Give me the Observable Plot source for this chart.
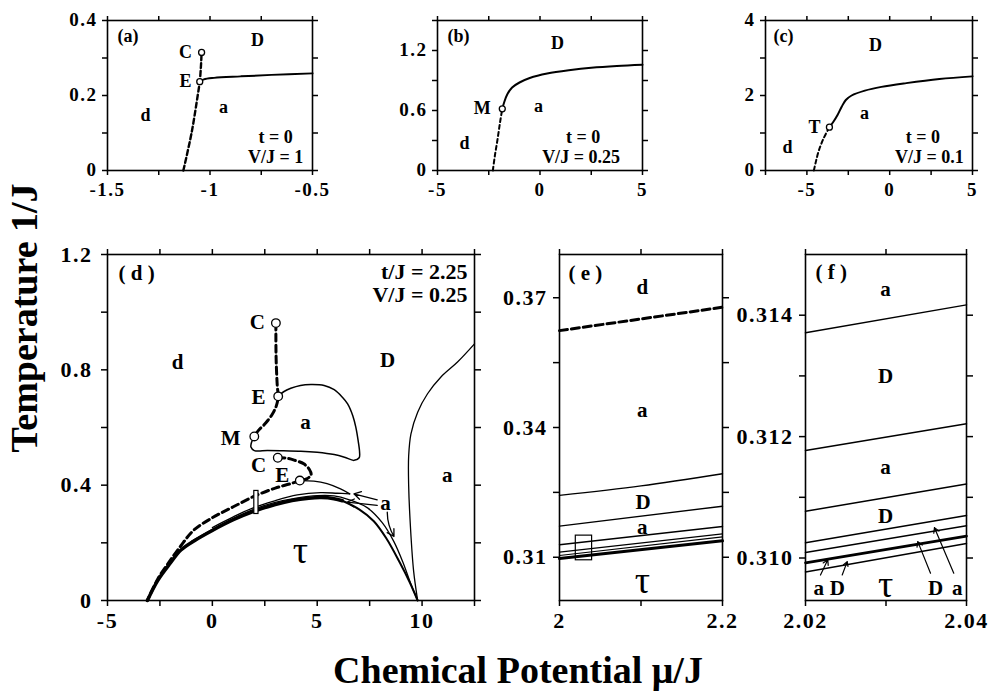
<!DOCTYPE html>
<html>
<head>
<meta charset="utf-8">
<script src="https://cdn.jsdelivr.net/npm/d3@7"></script>
<script src="https://cdn.jsdelivr.net/npm/@observablehq/plot@0.6"></script>
<style>
html, body { margin: 0; padding: 0; background: #fff; }
#chart { position: relative; width: 988px; height: 692px; overflow: hidden; font-family: "Liberation Serif", "Times New Roman", serif; color: #000; }
.panel { position: absolute; }
.title { position: absolute; font-weight: bold; font-size: 38px; line-height: 1; white-space: nowrap; }
</style>
</head>
<body>
<div id="chart"></div>
<script>
// ---------------- data ----------------
// Panel (a): t = 0, V/J = 1
const aXDomain = [-1.5, -0.5], aYDomain = [0, 0.4];
const aXTicks = [-1.5, -1.25, -1, -0.75, -0.5], aXLabels = [-1.5, -1, -0.5];
const aYTicks = [0, 0.1, 0.2, 0.3, 0.4], aYLabels = [0, 0.2, 0.4];
const aDashed = [[-1.13, 0], [-1.09, 0.1], [-1.06, 0.2], [-1.05, 0.237], [-1.044, 0.28], [-1.041, 0.315]];
const aSolid = [[-1.05, 0.237], [-1.03, 0.243], [-0.98, 0.247], [-0.85, 0.251], [-0.7, 0.255], [-0.5, 0.259]];
const aPoints = [[-1.041, 0.315], [-1.05, 0.237]];
const aText = [
  {t: "C", x: -1.12, y: 0.315}, {t: "E", x: -1.12, y: 0.237}, {t: "D", x: -0.768, y: 0.347},
  {t: "d", x: -1.315, y: 0.147}, {t: "a", x: -0.934, y: 0.168},
  {t: "t = 0", x: -0.68, y: 0.088}, {t: "V/J = 1", x: -0.68, y: 0.035}
];

// Panel (b): t = 0, V/J = 0.25
const bXDomain = [-5, 5], bYDomain = [0, 1.5];
const bXTicks = [-5, -2.5, 0, 2.5, 5], bXLabels = [-5, 0, 5];
const bYTicks = [0, 0.3, 0.6, 0.9, 1.2, 1.5], bYLabels = [0, 0.6, 1.2];
const bDashed = [[-2.3, 0], [-2.2, 0.15], [-2.08, 0.3], [-1.95, 0.48], [-1.84, 0.617]];
const bSolid = [[-1.84, 0.617], [-1.75, 0.68], [-1.6, 0.76], [-1.36, 0.83], [-1.0, 0.88], [-0.5, 0.925], [0.35, 0.97], [1.5, 1.005], [2.5, 1.027], [3.75, 1.045], [5, 1.057]];
const bPoints = [[-1.84, 0.617]];
const bText = [
  {t: "D", x: 0.85, y: 1.27}, {t: "M", x: -2.82, y: 0.627}, {t: "a", x: -0.07, y: 0.64},
  {t: "d", x: -3.68, y: 0.27}, {t: "t = 0", x: 2.1, y: 0.33}, {t: "V/J = 0.25", x: 2.0, y: 0.13}
];

// Panel (c): t = 0, V/J = 0.1
const cXDomain = [-7.5, 5], cYDomain = [0, 4];
const cXTicks = [-7.5, -5, -2.5, 0, 2.5, 5], cXLabels = [-5, 0, 5];
const cYTicks = [0, 1, 2, 3, 4], cYLabels = [0, 2, 4];
const cDashed = [[-4.58, 0], [-4.45, 0.25], [-4.28, 0.53], [-4.0, 0.85], [-3.64, 1.155]];
const cSolid = [[-3.64, 1.155], [-3.4, 1.3], [-3.15, 1.48], [-2.9, 1.7], [-2.65, 1.88], [-2.3, 2.0], [-1.5, 2.13], [-0.5, 2.23], [1, 2.33], [3, 2.44], [5, 2.51]];
const cPoints = [[-3.64, 1.155]];
const cText = [
  {t: "D", x: -0.86, y: 3.33}, {t: "T", x: -4.54, y: 1.15}, {t: "a", x: -1.52, y: 1.52},
  {t: "d", x: -6.17, y: 0.61}, {t: "t = 0", x: 2.0, y: 0.88}, {t: "V/J = 0.1", x: 2.4, y: 0.35}
];

// Panel (d): t/J = 2.25, V/J = 0.25
const dXDomain = [-5, 12.5], dYDomain = [0, 1.2];
const dXTicks = [-5, -2.5, 0, 2.5, 5, 7.5, 10, 12.5], dXLabels = [-5, 0, 5, 10];
const dYTicks = [0, 0.2, 0.4, 0.6, 0.8, 1.0, 1.2], dYLabels = [0, 0.4, 0.8, 1.2];
const dDashedUpper = [[3.03, 0.962], [3.03, 0.9], [3.04, 0.84], [3.07, 0.78], [3.1, 0.74], [3.14, 0.708], [3.05, 0.675], [2.85, 0.645], [2.5, 0.612], [2.2, 0.59], [2.0, 0.569]];
const dLoop = [[3.14, 0.708], [3.4, 0.724], [3.74, 0.736], [4.2, 0.746], [4.7, 0.749], [5.33, 0.746], [5.81, 0.731], [6.2, 0.705], [6.45, 0.682], [6.7, 0.64], [6.84, 0.601], [6.95, 0.555], [7.02, 0.515], [7.0, 0.495], [6.76, 0.486], [6.3, 0.497], [5.81, 0.506], [5.0, 0.514], [4.22, 0.518], [3.4, 0.519], [2.63, 0.52], [2.0, 0.52], [1.84, 0.532], [1.87, 0.549], [2.0, 0.569]];
const dDashedLower = [[3.12, 0.495], [3.5, 0.494], [3.9, 0.487], [4.36, 0.474], [4.62, 0.455], [4.71, 0.436], [4.5, 0.422], [4.17, 0.416]];
const dDashedTau = [[4.17, 0.416], [3.73, 0.405], [3.0, 0.39], [2.2, 0.368], [2.0, 0.362], [1.0, 0.325], [0.0, 0.287], [-0.9, 0.243], [-1.5, 0.19], [-2.0, 0.14], [-2.6, 0.075], [-3.1, 0]];
const dSliverTop = [[4.17, 0.416], [4.84, 0.414], [5.47, 0.405], [6.11, 0.387], [6.55, 0.37]];
const dSliverBottom = [[6.55, 0.37], [5.95, 0.372], [5.16, 0.374], [4.05, 0.366], [2.93, 0.345], [2.0, 0.323], [1.0, 0.29], [0.0, 0.253]];
const dTauThick = [[-3.1, 0], [-2.6, 0.07], [-2.0, 0.13], [-1.5, 0.175], [-0.8, 0.21], [0.0, 0.243], [1.0, 0.28], [2.0, 0.31], [3.0, 0.333], [3.8, 0.347], [4.6, 0.355], [5.2, 0.357], [5.8, 0.353], [6.2, 0.346]];
const dTauOuter = [[-1.0, 0.205], [0.0, 0.247], [1.0, 0.285], [2.0, 0.317], [3.0, 0.34], [4.0, 0.355], [5.0, 0.364], [5.8, 0.363], [6.5, 0.35], [7.38, 0.322], [8.1, 0.27], [8.65, 0.205], [9.1, 0.13], [9.45, 0.06], [9.79, 0]];
const dTauInner = [[6.2, 0.346], [7.0, 0.316], [7.7, 0.275], [8.3, 0.215], [8.95, 0.13], [9.4, 0.065], [9.79, 0]];
const dRight = [[9.79, 0], [9.6, 0.1], [9.45, 0.25], [9.36, 0.4], [9.36, 0.5], [9.47, 0.578], [9.79, 0.653], [10.26, 0.717], [10.9, 0.775], [11.69, 0.827], [12.5, 0.89]];
const dPoints = [[3.03, 0.962], [3.14, 0.708], [2.0, 0.569], [3.12, 0.495], [4.17, 0.416]];
const dText = [
  {t: "C", x: 2.15, y: 0.965}, {t: "d", x: -1.66, y: 0.826}, {t: "D", x: 8.35, y: 0.832},
  {t: "E", x: 2.2, y: 0.704}, {t: "a", x: 4.44, y: 0.617}, {t: "M", x: 0.87, y: 0.562},
  {t: "C", x: 2.2, y: 0.468}, {t: "E", x: 3.33, y: 0.434}, {t: "a", x: 11.2, y: 0.434},
  {t: "a", x: 8.26, y: 0.336}
];
const dTau = [{t: "τ", x: 4.2, y: 0.173}];
const dArrowsStraight = [
  {x1: 7.86, y1: 0.349, x2: 6.75, y2: 0.37},
  {x1: 7.86, y1: 0.33, x2: 6.43, y2: 0.341}
];
const dArrowsBent = [{x1: 8.34, y1: 0.306, x2: 8.66, y2: 0.222}];

// Panel (e): zoom of (d)
const eXDomain = [2, 2.2], eYDomain = [0.30, 0.38];
const eXTicks = [2, 2.1, 2.2], eXLabels = [2, 2.2];
const eYTicks = [0.31, 0.325, 0.34, 0.355, 0.37], eYLabels = [0.31, 0.34, 0.37];
const eDashed = [[2, 0.3624], [2.1, 0.3651], [2.2, 0.3678]];
const e1 = [[2, 0.3243], [2.1, 0.3265], [2.2, 0.3293]];
const e2 = [[2, 0.3172], [2.2, 0.3218]];
const e3 = [[2, 0.3129], [2.2, 0.3171]];
const e4 = [[2, 0.3112], [2.2, 0.3154]];
const e5 = [[2, 0.3104], [2.2, 0.3147]];
const eThick = [[2, 0.3097], [2.2, 0.3138]];
const eText = [
  {t: "d", x: 2.1015, y: 0.3724}, {t: "a", x: 2.1015, y: 0.3439},
  {t: "D", x: 2.1027, y: 0.3227}, {t: "a", x: 2.1015, y: 0.317}
];
const eTau = [{t: "τ", x: 2.1018, y: 0.3046}];

// Panel (f): zoom of (e)
const fXDomain = [2.02, 2.04], fYDomain = [0.3093, 0.315];
const fXTicks = [2.02, 2.03, 2.04], fXLabels = [2.02, 2.04];
const fYTicks = [0.310, 0.311, 0.312, 0.313, 0.314], fYLabels = [0.310, 0.312, 0.314];
const f1 = [[2.02, 0.31371], [2.04, 0.31417]];
const f2 = [[2.02, 0.31177], [2.04, 0.31221]];
const f3 = [[2.02, 0.31077], [2.04, 0.31122]];
const f4 = [[2.02, 0.31025], [2.04, 0.3107]];
const f5 = [[2.02, 0.31009], [2.04, 0.31053]];
const f6 = [[2.02, 0.30992], [2.04, 0.31036]];
const f7 = [[2.02, 0.30977], [2.04, 0.31024]];
const fText = [
  {t: "a", x: 2.02994, y: 0.31443}, {t: "D", x: 2.02994, y: 0.313},
  {t: "a", x: 2.02994, y: 0.3115}, {t: "D", x: 2.02994, y: 0.31068},
  {t: "a", x: 2.02165, y: 0.3095}, {t: "D", x: 2.02394, y: 0.3095},
  {t: "D", x: 2.03615, y: 0.3095}, {t: "a", x: 2.03885, y: 0.3095}
];
const fTau = [{t: "τ", x: 2.02994, y: 0.30955}];
const fArrows = [
  {x1: 2.02186, y1: 0.30972, x2: 2.02277, y2: 0.30997},
  {x1: 2.02456, y1: 0.30972, x2: 2.02518, y2: 0.30994},
  {x1: 2.03553, y1: 0.30975, x2: 2.03395, y2: 0.31027},
  {x1: 2.03842, y1: 0.30975, x2: 2.03602, y2: 0.3105}
];

// ---------------- drawing ----------------
const SERIF = '"Liberation Serif", "Times New Roman", serif';
const chart = document.getElementById("chart");

const ln = (data, o = {}) => Plot.line(data, {x: d => d[0], y: d => d[1], curve: "catmull-rom", stroke: "black", strokeWidth: 1.5, ...o});
const dash = (data, o = {}) => ln(data, {strokeDasharray: "5,3", strokeWidth: 2.4, ...o});
const dots = (data, r) => Plot.dot(data, {x: d => d[0], y: d => d[1], r, fill: "white", stroke: "black", strokeWidth: 1.3});
const txt = (data, o = {}) => Plot.text(data, {x: "x", y: "y", text: "t", fontWeight: "bold", ...o});
const corner = (s, o) => Plot.text([s], {frameAnchor: "top-left", textAnchor: "start", lineAnchor: "top", fontWeight: "bold", ...o});
const fmt = d => String(d);

function panel(cfg) {
  const tickStyle = {tickSize: cfg.tickSize, fill: "none", strokeWidth: 1.5, label: null};
  const labStyle = {tickSize: cfg.tickSize, stroke: "none", label: null,
    fontSize: cfg.tickFont, fontWeight: "bold", fontFamily: SERIF};
  const svg = Plot.plot({
    width: cfg.width, height: cfg.height,
    marginLeft: cfg.mL, marginRight: cfg.mR, marginTop: cfg.mT, marginBottom: cfg.mB,
    x: {domain: cfg.xDomain}, y: {domain: cfg.yDomain},
    style: {fontFamily: SERIF, fontSize: cfg.textFont + "px", fontWeight: "bold", background: "transparent", color: "black", overflow: "visible"},
    marks: [
      ...cfg.marks,
      Plot.frame({strokeWidth: 1.6}),
      Plot.axisX(cfg.xTicks, {anchor: "bottom", ...tickStyle}),
      Plot.axisX(cfg.xTicks, {anchor: "top", ...tickStyle}),
      Plot.axisY(cfg.yTicks, {anchor: "left", ...tickStyle}),
      Plot.axisY(cfg.yTicks, {anchor: "right", ...tickStyle}),
      Plot.axisX(cfg.xLabels, {anchor: "bottom", ...labStyle, tickPadding: cfg.xPad, tickFormat: cfg.xFmt || fmt}),
      Plot.axisY(cfg.yLabels, {anchor: "left", ...labStyle, tickPadding: cfg.yPad, dy: cfg.yDy || 0, tickFormat: cfg.yFmt || fmt})
    ]
  });
  d3.select(svg).selectAll('g[aria-label="x-axis tick label"] text, g[aria-label="y-axis tick label"] text')
    .style("letter-spacing", cfg.tickSpacing + "px");
  const div = document.createElement("div");
  div.className = "panel";
  Object.assign(div.style, {left: cfg.left + "px", top: cfg.top + "px", width: cfg.width + "px", height: cfg.height + "px"});
  div.appendChild(svg);
  chart.appendChild(div);
}

const top3 = {top: 0, width: 280, height: 200, mL: 60, mR: 15, mT: 20, mB: 30,
  tickSize: 5, xPad: 7, yPad: 5, yDy: -1, tickFont: 19, tickSpacing: 1.5, textFont: 18};
const bottom3 = {top: 234, height: 406, mT: 20, mB: 40, tickSize: 6, xPad: 6, yPad: 6, tickFont: 22, tickSpacing: 1.5, textFont: 21};
const TAU = {fontWeight: "normal", fontSize: 38};

// (a)
panel({...top3, left: 47,
  xDomain: aXDomain, yDomain: aYDomain, xTicks: aXTicks, xLabels: aXLabels, yTicks: aYTicks, yLabels: aYLabels,
  marks: [
    dash(aDashed), ln(aSolid, {strokeWidth: 2}), dots(aPoints, 3),
    txt(aText), corner("(a)", {dx: 10, dy: 9})
  ]});
// (b)
panel({...top3, left: 377,
  xDomain: bXDomain, yDomain: bYDomain, xTicks: bXTicks, xLabels: bXLabels, yTicks: bYTicks, yLabels: bYLabels,
  marks: [
    dash(bDashed, {strokeDasharray: "4,3", strokeWidth: 2}), ln(bSolid, {strokeWidth: 2}), dots(bPoints, 3),
    txt(bText), corner("(b)", {dx: 10, dy: 9})
  ]});
// (c)
panel({...top3, left: 705, width: 282,
  xDomain: cXDomain, yDomain: cYDomain, xTicks: cXTicks, xLabels: cXLabels, yTicks: cYTicks, yLabels: cYLabels,
  marks: [
    dash(cDashed, {strokeDasharray: "4,3", strokeWidth: 2}), ln(cSolid, {strokeWidth: 2}), dots(cPoints, 3),
    txt(cText), corner("(c)", {dx: 8, dy: 9})
  ]});
// (d)
panel({...bottom3, left: 40, width: 449, mL: 67, mR: 15, yPad: 9,
  xDomain: dXDomain, yDomain: dYDomain, xTicks: dXTicks, xLabels: dXLabels, yTicks: dYTicks, yLabels: dYLabels,
  marks: [
    ln(dRight, {strokeWidth: 1.3}),
    ln(dLoop, {strokeWidth: 1.5}),
    ln(dTauOuter, {strokeWidth: 1.3}),
    ln(dTauInner, {strokeWidth: 2}),
    ln(dSliverTop, {strokeWidth: 1.3}),
    ln(dSliverBottom, {strokeWidth: 1.3}),
    ln(dTauThick, {strokeWidth: 3.5}),
    dash(dDashedTau, {strokeDasharray: "7,4", strokeWidth: 3}),
    dash(dDashedUpper, {strokeDasharray: "7,4", strokeWidth: 3}),
    dash(dDashedLower, {strokeDasharray: "7,4", strokeWidth: 3}),
    Plot.rect([{x1: eXDomain[0], x2: eXDomain[1], y1: eYDomain[0], y2: eYDomain[1]}],
      {x1: "x1", x2: "x2", y1: "y1", y2: "y2", fill: "white", stroke: "black", strokeWidth: 1.2}),
    dots(dPoints, 4.3),
    Plot.arrow(dArrowsStraight, {x1: "x1", y1: "y1", x2: "x2", y2: "y2", headLength: 9, strokeWidth: 1.3}),
    Plot.arrow(dArrowsBent, {x1: "x1", y1: "y1", x2: "x2", y2: "y2", headLength: 9, strokeWidth: 1.3, bend: -15}),
    txt(dText),
    txt(dTau, TAU),
    corner("( d )", {dx: 11, dy: 11}),
    Plot.text(["t/J = 2.25"], {frameAnchor: "top-right", textAnchor: "end", lineAnchor: "top", dx: -7, dy: 9, fontWeight: "bold", fontSize: 22}),
    Plot.text(["V/J = 0.25"], {frameAnchor: "top-right", textAnchor: "end", lineAnchor: "top", dx: -7, dy: 32, fontWeight: "bold", fontSize: 22})
  ]});
// (e)
panel({...bottom3, left: 489, width: 248, mL: 70, mR: 15,
  xDomain: eXDomain, yDomain: eYDomain, xTicks: eXTicks, xLabels: eXLabels, yTicks: eYTicks, yLabels: eYLabels,
  marks: [
    dash(eDashed, {strokeDasharray: "8,4", strokeWidth: 3, curve: "linear"}),
    ln(e1, {strokeWidth: 1.4}), ln(e2, {strokeWidth: 1.4}), ln(e3, {strokeWidth: 1.4}),
    ln(e4, {strokeWidth: 1.2}), ln(e5, {strokeWidth: 1.2}), ln(eThick, {strokeWidth: 3}),
    Plot.rect([{x1: fXDomain[0], x2: fXDomain[1], y1: fYDomain[0], y2: fYDomain[1]}],
      {x1: "x1", x2: "x2", y1: "y1", y2: "y2", fill: "none", stroke: "black", strokeWidth: 1.2}),
    txt(eText), txt(eTau, TAU),
    corner("( e )", {dx: 9, dy: 11})
  ]});
// (f)
panel({...bottom3, left: 735, width: 246, mL: 70, mR: 15,
  xDomain: fXDomain, yDomain: fYDomain, xTicks: fXTicks, xLabels: fXLabels, yTicks: fYTicks, yLabels: fYLabels,
  yFmt: d3.format(".3f"),
  marks: [
    ln(f1, {strokeWidth: 1.5}), ln(f2, {strokeWidth: 1.5}), ln(f3, {strokeWidth: 1.5}),
    ln(f4, {strokeWidth: 1.5}), ln(f5, {strokeWidth: 1.5}), ln(f6, {strokeWidth: 2.6}), ln(f7, {strokeWidth: 1.5}),
    Plot.arrow(fArrows, {x1: "x1", y1: "y1", x2: "x2", y2: "y2", headLength: 7, strokeWidth: 1.2}),
    txt(fText), txt(fTau, TAU),
    corner("( f )", {dx: 10, dy: 10})
  ]});

// axis titles
const yt = document.createElement("div");
yt.className = "title";
yt.textContent = "Temperature 1/J";
Object.assign(yt.style, {left: "24px", top: "318px", transform: "translate(-50%, -50%) rotate(-90deg)"});
chart.appendChild(yt);
const xt = document.createElement("div");
xt.className = "title";
xt.textContent = "Chemical Potential μ/J";
Object.assign(xt.style, {left: "518px", top: "651px", transform: "translateX(-50%)"});
chart.appendChild(xt);
</script>
</body>
</html>
